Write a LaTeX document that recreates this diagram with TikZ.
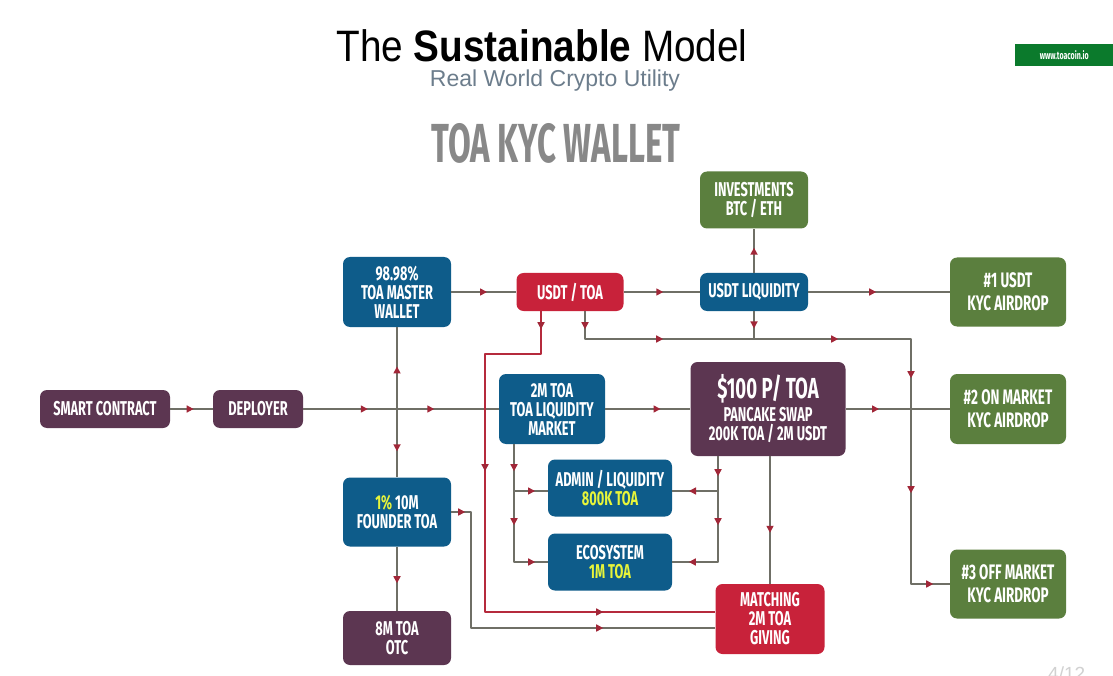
\documentclass[tikz,border=0pt]{standalone}
\usepackage{fontspec}
\usetikzlibrary{arrows.meta,decorations.markings}
\setmainfont{Liberation Sans}
\newfontfamily\titlefont{Liberation Sans}[FakeStretch=0.88]
\newfontfamily\boxfont{Fira Sans}[FakeStretch=0.64]
\newfontfamily\headfont{Fira Sans}[FakeStretch=0.6]
\definecolor{plum}{HTML}{5C3651}
\definecolor{toablue}{HTML}{0E5C8A}
\definecolor{toared}{HTML}{C8223A}
\definecolor{toagreen}{HTML}{5B7F3E}
\definecolor{hilite}{HTML}{E8F53A}
\definecolor{wiregray}{HTML}{6F6F66}
\definecolor{tipred}{HTML}{A12738}
\definecolor{redwire}{HTML}{B52A3C}
\definecolor{subgray}{HTML}{6C7D8C}
\definecolor{headgray}{HTML}{888888}
\definecolor{taggreen}{HTML}{0B7A2C}

\begin{document}
\begin{tikzpicture}[x=1pt,y=-1pt,line join=round,
  box/.style={rounded corners=7pt,text=white,align=center,inner sep=0pt,
    font=\boxfont\bfseries\fontsize{20}{19}\selectfont},
  wire/.style={draw=wiregray,line width=1.6pt},
  redline/.style={draw=redwire,line width=1.6pt},
  tip/.style={postaction={decorate,decoration={markings,
    mark=at position #1 with {\arrow{Triangle[width=7pt,length=7pt,color=tipred]}}}}}]
  \fill[white] (0,0) rectangle (1113,676);
  \useasboundingbox (0,0) rectangle (1113,676);

  \node (title) at (542,46) {\titlefont\fontsize{44}{44}\selectfont The {\bfseries Sustainable} Model};
  \node[text=subgray,font=\fontsize{23}{23}\selectfont] (sub) at (555,81) {Real World Crypto Utility};
  \node[text=headgray,font=\headfont\bfseries\fontsize{55}{55}\selectfont] (head) at (556,143) {TOA KYC WALLET};
  \node[fill=taggreen,anchor=west,minimum width=98,minimum height=22,inner sep=0pt,text=white,
    font=\boxfont\bfseries\fontsize{11}{11}\selectfont] (tag) at (1015,55) {www.toacoin.io};
  \node[anchor=north west,text=black!18,font=\fontsize{19}{19}\selectfont,inner sep=0pt] (page) at (1048,667) {4/12};

  \node[box,fill=plum,minimum width=130,minimum height=38] (sc) at (105,409) {SMART CONTRACT};
  \node[box,fill=plum,minimum width=90,minimum height=38] (dep) at (258,409) {DEPLOYER};
  \node[box,fill=toablue,minimum width=108,minimum height=70] (master) at (397,292) {98.98\%\\TOA MASTER\\WALLET};
  \node[box,fill=toared,minimum width=107,minimum height=38] (usdt) at (570,292) {USDT / TOA};
  \node[box,fill=toablue,minimum width=108,minimum height=38] (liq) at (754,292) {USDT LIQUIDITY};
  \node[box,fill=toagreen,minimum width=108,minimum height=57] (invest) at (754,200) {INVESTMENTS\\BTC / ETH};
  \node[box,fill=toagreen,minimum width=116,minimum height=69,font=\boxfont\bfseries\fontsize{21}{23}\selectfont] (air1) at (1008,292) {\#1 USDT\\KYC AIRDROP};
  \node[box,fill=toablue,minimum width=106,minimum height=70] (pool) at (552,409) {2M TOA\\TOA LIQUIDITY\\MARKET};
  \node[box,fill=plum,minimum width=155,minimum height=94] (swap) at (768,409) {{\fontsize{29}{30}\selectfont \$100 P/ TOA}\\[4pt]PANCAKE SWAP\\200K TOA / 2M USDT};
  \node[box,fill=toagreen,minimum width=116,minimum height=70,font=\boxfont\bfseries\fontsize{21}{23}\selectfont] (air2) at (1008,409) {\#2 ON MARKET\\KYC AIRDROP};
  \node[box,fill=toablue,minimum width=124,minimum height=57] (admin) at (610,488) {ADMIN / LIQUIDITY\\\textcolor{hilite}{800K TOA}};
  \node[box,fill=toablue,minimum width=124,minimum height=57] (eco) at (610,562) {ECOSYSTEM\\\textcolor{hilite}{1M TOA}};
  \node[box,fill=toablue,minimum width=108,minimum height=69] (founder) at (397,512) {\textcolor{hilite}{1\%} 10M\\FOUNDER TOA};
  \node[box,fill=plum,minimum width=108,minimum height=54] (otc) at (397,638) {8M TOA\\OTC};
  \node[box,fill=toared,minimum width=109,minimum height=70] (match) at (770,619) {MATCHING\\2M TOA\\GIVING};
  \node[box,fill=toagreen,minimum width=116,minimum height=69,font=\boxfont\bfseries\fontsize{21}{23}\selectfont] (air3) at (1008,584) {\#3 OFF MARKET\\KYC AIRDROP};

  \coordinate (j1) at (397,409);
  \coordinate (d1) at (585,339);
  \coordinate (d2) at (911,339);
  \coordinate (r1) at (541,354);
  \coordinate (r2) at (485,354);
  \coordinate (r3) at (485,612);
  \coordinate (p1) at (514,491);
  \coordinate (p2) at (514,562);
  \coordinate (s1) at (718,491);
  \coordinate (s2) at (718,562);
  \coordinate (f1) at (471,628);

  \draw[wire,tip=.55] (sc) -- (dep);
  \draw[wire,tip=.33,tip=.67] (dep) -- (pool);
  \draw[wire,tip=.52] (j1) -- (master);
  \draw[wire,tip=.62] (j1) -- (founder);
  \draw[wire,tip=.57] (founder) -- (otc);
  \draw[wire,tip=.55] (master) -- (usdt);
  \draw[wire,tip=.52] (usdt) -- (liq);
  \draw[wire,tip=.57] (liq) -- (invest);
  \draw[wire,tip=.48] (liq) -- (air1);
  \draw[wire,tip=.62] (liq) -- (liq |- d1);
  \draw[wire,tip=18pt,tip=106pt,tip=281pt,tip=393pt,tip=508pt,tip=621pt]
    (usdt.south -| d1) -- (d1) -- (d2) -- (d2 |- air3) -- (air3);
  \draw[wire,tip=.65] (pool) -- (swap);
  \draw[wire,tip=.32] (swap) -- (air2);
  \draw[wire,tip=27pt,tip=81pt,tip=139pt] (pool.south -| p1) -- (p2) -- (eco);
  \draw[wire,tip=21pt] (p1) -- (p1 -| admin.west);
  \draw[wire,tip=20pt,tip=69pt,tip=135pt] (swap.south -| s1) -- (s2) -- (eco);
  \draw[wire,tip=29pt] (s1) -- (s1 -| admin.east);
  \draw[wire,tip=.6] (swap.south -| match) -- (match);
  \draw[wire,tip=14pt,tip=268pt] (founder) -- (founder -| f1) -- (f1) -- (f1 -| match.west);
  \draw[redline,tip=18pt,tip=216pt,tip=475pt] (usdt.south -| r1) -- (r1) -- (r2) -- (r3) -- (r3 -| match.west);
\end{tikzpicture}
\end{document}
